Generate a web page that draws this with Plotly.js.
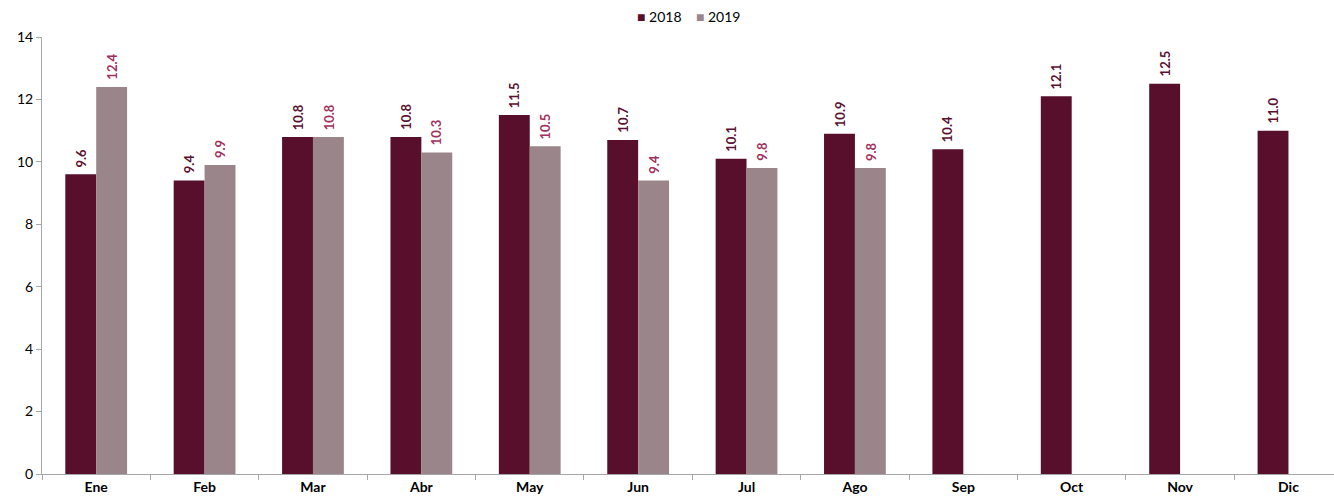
<!DOCTYPE html>
<html><head><meta charset="utf-8">
<script src="https://cdn.plot.ly/plotly-3.0.1.min.js"></script>
<style>html,body{margin:0;padding:0;background:#fff}#c{width:1334px;height:503px}</style>
</head><body><div id="c"></div>
<script>
const months = ["Ene","Feb","Mar","Abr","May","Jun","Jul","Ago","Sep","Oct","Nov","Dic"];
const v2018 = [9.6,9.4,10.8,10.8,11.5,10.7,10.1,10.9,10.4,12.1,12.5,11.0];
const v2019 = [12.4,9.9,10.8,10.3,10.5,9.4,9.8,9.8,null,null,null,null];
const series = [
 {name:"2018", y:v2018, color:"#570F2C", label:"#5A1030", shift:-15.5},
 {name:"2019", y:v2019, color:"#9A868A", label:"#A3305C", shift:15.5}
];
const fam = "Lato, 'Open Sans', sans-serif";
const traces = series.map(s => ({type:"bar", name:s.name, x:months, y:s.y, marker:{color:s.color}, hoverinfo:"none"}));
const annotations = [];
series.forEach(s => {
  s.y.forEach((v,i) => {
    if (v === null) return;
    annotations.push({x:months[i], y:v, xref:"x", yref:"y", text:v.toFixed(1), showarrow:false,
      textangle:-90, xanchor:"center", yanchor:"bottom", xshift:s.shift, yshift:5,
      font:{family:fam, size:13, weight:"bold", color:s.label}});
  });
});
annotations.push({xref:"paper", yref:"paper", x:0.5, y:1.046, xanchor:"center", yanchor:"middle", showarrow:false,
  text:series.map(s => '<span style="color:'+s.color+'">■</span> '+s.name).join('    '),
  font:{family:fam, size:14, color:"#000"}});
const layout = {
 width:1334, height:503,
 margin:{l:42, r:0, t:37, b:29, autoexpand:false},
 paper_bgcolor:"#fff", plot_bgcolor:"#fff",
 font:{family:fam, size:14, color:"#000"},
 barmode:"group", bargap:0.43, bargroupgap:0,
 showlegend:false,
 annotations:annotations,
 xaxis:{type:"category", range:[-0.5,11.42], showline:true, linecolor:"#A6A6A6", linewidth:1,
   ticks:"outside", tickson:"boundaries", ticklen:5, tickcolor:"#A6A6A6",
   tickfont:{size:14, weight:"bold"}, showgrid:false, zeroline:false, fixedrange:true},
 yaxis:{range:[0,14], dtick:2, showline:true, linecolor:"#A6A6A6", linewidth:1,
   ticks:"outside", ticklen:5, tickcolor:"#A6A6A6", tickfont:{size:14},
   showgrid:false, zeroline:false, fixedrange:true}
};
Plotly.newPlot("c", traces, layout, {displayModeBar:false, staticPlot:true});
</script></body></html>
